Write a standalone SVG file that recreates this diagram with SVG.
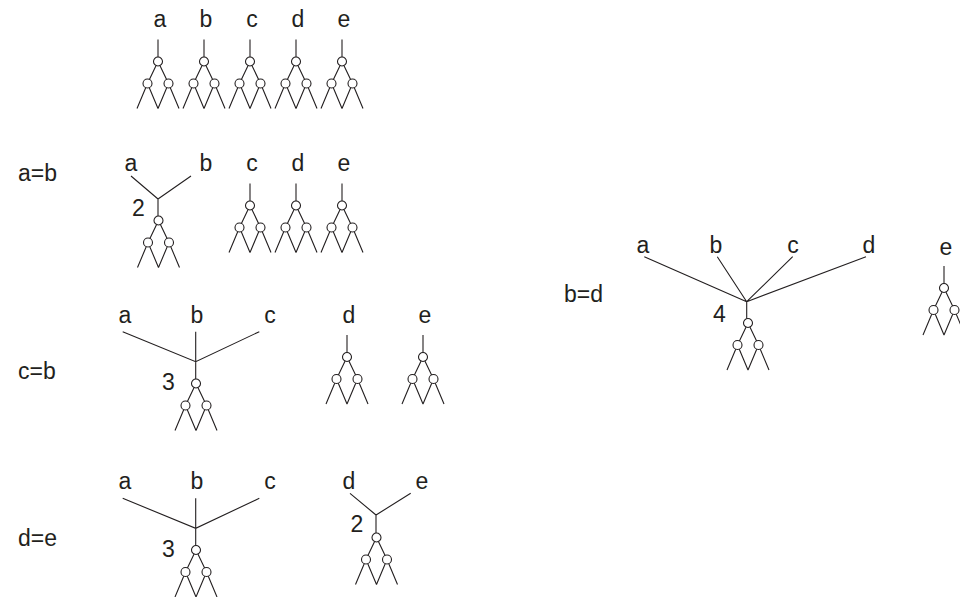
<svg xmlns="http://www.w3.org/2000/svg" xmlns:xlink="http://www.w3.org/1999/xlink" width="960" height="597" viewBox="0 0 960 597">
<style>
text{font-family:"Liberation Sans",Arial,sans-serif;font-size:23px;fill:#231f20}
.lab{text-anchor:middle}
path,line{stroke:#231f20;stroke-width:1.1;fill:none}
circle{stroke:#231f20;stroke-width:1.1;fill:#fff}
</style>
<defs>
<g id="core">
<path d="M0,0 L-10.5,22 M0,0 L10.5,22 M-10.5,22 L-21,47 M-10.5,22 L0,47 M10.5,22 L0,47 M10.5,22 L21,47"/>
<circle cx="0" cy="0" r="4.5"/><circle cx="-10.5" cy="22" r="4.5"/><circle cx="10.5" cy="22" r="4.5"/>
</g>
<g id="single"><path d="M0,-22 V-4"/><use xlink:href="#core"/></g>
</defs>
<rect width="960" height="597" fill="#fff"/>

<g id="row-labels">
<text x="18" y="181">a=b</text>
<text x="18" y="379">c=b</text>
<text x="18" y="546">d=e</text>
<text x="564" y="302">b=d</text>
</g>

<g id="row1">
<g id="r1a"><text class="lab" x="160" y="27">a</text><use xlink:href="#single" x="158" y="61.5"/></g>
<g id="r1b"><text class="lab" x="206" y="27">b</text><use xlink:href="#single" x="204" y="61.5"/></g>
<g id="r1c"><text class="lab" x="252" y="27">c</text><use xlink:href="#single" x="250" y="61.5"/></g>
<g id="r1d"><text class="lab" x="298" y="27">d</text><use xlink:href="#single" x="296" y="61.5"/></g>
<g id="r1e"><text class="lab" x="344" y="27">e</text><use xlink:href="#single" x="342" y="61.5"/></g>
</g>

<g id="row2">
<g id="r2ab"><text class="lab" x="131" y="171">a</text><text class="lab" x="206" y="171">b</text><text class="lab" x="138.5" y="215.5">2</text><use xlink:href="#core" x="158.5" y="220.5"/></g>
<g id="r2c"><text class="lab" x="252" y="171">c</text><use xlink:href="#single" x="250" y="205.5"/></g>
<g id="r2d"><text class="lab" x="298" y="171">d</text><use xlink:href="#single" x="296" y="205.5"/></g>
<g id="r2e"><text class="lab" x="344" y="171">e</text><use xlink:href="#single" x="342" y="205.5"/></g>
</g>

<g id="row3">
<g id="r3abc"><text class="lab" x="125" y="322.5">a</text><text class="lab" x="197" y="322.5">b</text><text class="lab" x="270" y="322.5">c</text><text class="lab" x="168.5" y="390">3</text><use xlink:href="#core" x="196" y="383.5"/></g>
<g id="r3d"><text class="lab" x="349" y="322.5">d</text><use xlink:href="#single" x="347" y="357"/></g>
<g id="r3e"><text class="lab" x="425" y="322.5">e</text><use xlink:href="#single" x="423" y="357"/></g>
</g>

<g id="row4">
<g id="r4abc"><text class="lab" x="125" y="489">a</text><text class="lab" x="197" y="489">b</text><text class="lab" x="270" y="489">c</text><text class="lab" x="168.5" y="556.5">3</text><use xlink:href="#core" x="196" y="550"/></g>
<g id="r4de"><text class="lab" x="349" y="489">d</text><text class="lab" x="422" y="489">e</text><text class="lab" x="357" y="531.5">2</text><use xlink:href="#core" x="376.5" y="537.5"/></g>
</g>

<g id="row-bd">
<g id="bdabcd"><text class="lab" x="643" y="253">a</text><text class="lab" x="716" y="253">b</text><text class="lab" x="793" y="253">c</text><text class="lab" x="869" y="253">d</text><text class="lab" x="719.5" y="322">4</text><use xlink:href="#core" x="748" y="323"/></g>
<g id="bde"><text class="lab" x="946" y="255">e</text><use xlink:href="#single" x="944" y="288"/></g>
</g>

<g id="connectors">
<path d="M131,176 L158,199 L191,176 M158,199 V216"/>
<path d="M122.7,331.7 L195.7,361.7 L259.3,331.7 M195.7,331.7 V379"/>
<path d="M122.7,498.3 L195.7,528.3 L259.3,498.3 M195.7,498.3 V545.5"/>
<path d="M350,493.3 L376,515 L410.7,493.3 M376,515 V533"/>
<path d="M644.3,256.7 L746.7,301.7 M717.3,256.7 L746.7,301.7 M792.7,256.7 L746.7,301.7 M866,256.7 L746.7,301.7 M746.7,301.7 V318.5"/>
</g>
</svg>
